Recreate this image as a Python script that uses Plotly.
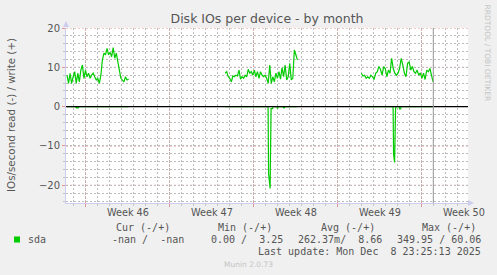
import plotly.graph_objects as go
import pandas as pd

# ---------------- data ----------------
chart_title = "Disk IOs per device - by month"
y_title = "IOs/second read (-) / write (+)"
watermark = "RRDTOOL / TOBI OETIKER"
footer = "Munin 2.0.73"

week_starts = ["2025-11-10", "2025-11-17", "2025-11-24", "2025-12-01", "2025-12-08"]
week_label_pos = ["2025-11-13 12:00", "2025-11-20 12:00", "2025-11-27 12:00",
                  "2025-12-04 12:00", "2025-12-11 12:00"]
week_labels = ["Week 46", "Week 47", "Week 48", "Week 49", "Week 50"]
y_ticks = [-20, -10, 0, 10, 20]

x_range = ["2025-11-08 08:50", "2025-12-11 20:50"]
y_range = [-24.5, 20]
last_update = "2025-12-08 23:25:13"

# write (+) series, three sampled stretches
write1_span = ("2025-11-08 10:50", "2025-11-13 14:00")
write1 = [8.0, 5.9, 8.5, 5.9, 7.6, 8.9, 5.9, 8.5, 6.3, 9.3, 10.6, 7.2, 9.3, 7.6,
          8.5, 7.2, 8.0, 8.5, 7.6, 6.8, 7.2, 5.9, 8.0, 11.9, 13.6, 13.2, 14.8,
          13.2, 13.8, 12.7, 15.0, 12.3, 13.6, 11.0, 9.3, 7.2, 6.8, 6.3, 7.6, 6.8, 7.0]

write2_span = ("2025-11-21 15:10", "2025-11-27 15:40")
write2 = [8.5, 8.9, 7.6, 7.2, 6.3, 7.8, 7.6, 8.0, 7.8, 9.3, 7.0, 7.6, 7.2, 8.0,
          7.6, 9.5, 8.5, 8.9, 8.0, 9.3, 7.6, 8.9, 7.2, 8.9, 8.0, 7.6, 8.0, 7.2,
          5.9, 10.6, 5.9, 7.6, 6.3, 8.5, 7.2, 8.9, 7.0, 9.9, 7.6, 10.6, 6.8, 7.6,
          11.0, 6.8, 7.2, 14.4, 13.2, 11.9]

write3_span = ("2025-12-02 23:30", "2025-12-08 23:00")
write3 = [8.5, 7.8, 8.0, 7.2, 7.6, 7.2, 8.0, 7.6, 6.9, 8.5, 8.9, 10.2, 9.5, 8.0,
          10.2, 9.7, 7.6, 9.3, 8.5, 12.3, 9.7, 8.5, 8.0, 8.5, 9.7, 12.3, 10.6, 8.5,
          7.6, 11.0, 11.4, 9.3, 10.2, 8.9, 8.5, 9.3, 8.0, 8.6, 7.2, 8.5, 6.9, 9.3,
          8.9, 9.7, 8.0, 6.3]

# read (-) series (None = gap)
read_times = ["2025-11-08 10:50", "2025-11-09 04:00", "2025-11-09 05:30", "2025-11-09 09:20",
              "2025-11-09 10:30", "2025-11-13 14:00", None,
              "2025-11-21 15:10", "2025-11-25 05:00", "2025-11-25 06:00", "2025-11-25 09:00",
              "2025-11-25 11:00", "2025-11-25 14:00", "2025-11-25 15:00", "2025-11-25 23:00",
              "2025-11-26 00:00", "2025-11-26 01:00", "2025-11-26 10:30", "2025-11-26 11:30",
              "2025-11-26 13:00", "2025-11-26 14:00", "2025-11-27 15:40", None,
              "2025-12-02 23:30", "2025-12-05 15:00", "2025-12-05 16:00", "2025-12-05 18:00",
              "2025-12-05 20:00", "2025-12-05 22:00", "2025-12-06 03:00", "2025-12-06 04:00",
              "2025-12-06 06:00", "2025-12-06 07:00", "2025-12-08 23:00"]
read_values = [0, 0, -0.3, -0.3, 0, 0, None,
               0, 0, -17, -20.8, -0.5, -0.5, 0, 0, -0.5, 0, 0, -0.4, -0.4, 0, 0, None,
               0, 0, -12, -14.2, -0.3, 0, 0, -0.6, -0.6, 0, 0]

legend_name = "sda"
col_headers = ["Cur (-/+)", "Min (-/+)", "Avg (-/+)", "Max (-/+)"]
col_values = ["-nan /  -nan", "0.00 /  3.25", "262.37m/  8.66", "349.95 / 60.06"]
last_update_text = "Last update: Mon Dec  8 23:25:13 2025"

# ---------------- layout helpers ----------------
W, H = 497, 275
L, R, T, B = 66, 468, 28, 203


def px(x):
    return (x - L) / (R - L)


def py(y):
    return (B - y) / (B - T)


GREEN = "#00cc00"
TXT = "#555555"
MAJOR = "#e59595"
MINOR = "#bcbcbc"
AXIS = "#ccccee"
DOTS = "2px,2px"
SANS = "DejaVu Sans, Verdana, sans-serif"
MONO = "DejaVu Sans Mono, monospace"

fig = go.Figure()

for span, vals in [(write1_span, write1), (write2_span, write2), (write3_span, write3)]:
    t = pd.date_range(span[0], span[1], periods=len(vals))
    fig.add_trace(go.Scatter(x=t, y=vals, mode="lines",
                             line=dict(color=GREEN, width=1.2),
                             showlegend=False, hoverinfo="skip"))

fig.add_trace(go.Scatter(x=read_times, y=read_values, mode="lines",
                         line=dict(color=GREEN, width=1.2), connectgaps=False,
                         showlegend=False, hoverinfo="skip"))

fig.update_layout(
    width=W, height=H,
    margin=dict(l=L, r=W - R, t=T, b=H - B),
    paper_bgcolor="#f0f0f0", plot_bgcolor="#ffffff",
    font=dict(family=SANS, size=10, color=TXT),
    title=dict(text=chart_title, x=0.5, xanchor="center", xref="paper",
               y=1 - 19 / H, yanchor="middle",
               font=dict(family=SANS, size=12.5, color=TXT)),
    xaxis=dict(type="date", range=x_range, tickmode="array", tickvals=week_starts,
               showticklabels=False, showgrid=False,
               ticks="outside", ticklen=3, tickcolor=MAJOR,
               showline=True, linecolor=AXIS, linewidth=1, zeroline=False,
               minor=dict(dtick=86400000, tick0="2025-11-10", showgrid=True,
                          gridcolor=MINOR, griddash=DOTS, gridwidth=1,
                          ticks="outside", ticklen=2, tickcolor="#c4c4c4")),
    yaxis=dict(range=y_range, tickmode="array", tickvals=y_ticks,
               showgrid=False,
               ticks="outside", ticklen=3, tickcolor=MAJOR,
               showline=True, linecolor=AXIS, linewidth=1, zeroline=False,
               tickfont=dict(family=SANS, size=10, color=TXT),
               minor=dict(dtick=2, showgrid=True, gridcolor=MINOR, griddash=DOTS,
                          gridwidth=1, ticks="outside", ticklen=2, tickcolor="#c4c4c4")),
)

shapes = []
# major grid (red dotted) at the week boundaries and y ticks
for ws in week_starts:
    shapes.append(dict(type="line", xref="x", yref="paper", x0=ws, x1=ws, y0=0, y1=1,
                       line=dict(color=MAJOR, width=1, dash=DOTS), layer="below"))
for yt in y_ticks:
    shapes.append(dict(type="line", xref="paper", yref="y", x0=0, x1=1, y0=yt, y1=yt,
                       line=dict(color=MAJOR, width=1, dash=DOTS), layer="below"))
shapes += [
    # zero rule drawn above data
    dict(type="line", xref="paper", yref="y", x0=0, x1=1, y0=0, y1=0,
         line=dict(color="#000000", width=1.4), layer="above"),
    # "now" marker
    dict(type="line", xref="x", yref="paper", x0=last_update, x1=last_update, y0=0, y1=1,
         line=dict(color="#999999", width=1), layer="above"),
    # axis arrows
    dict(type="path", xref="paper", yref="paper",
         path=f"M {px(63)} {py(27)} L {px(69)} {py(27)} L {px(66)} {py(21)} Z",
         fillcolor=AXIS, line=dict(width=0)),
    dict(type="path", xref="paper", yref="paper",
         path=f"M {px(468)} {py(200)} L {px(468)} {py(206)} L {px(474)} {py(203)} Z",
         fillcolor=AXIS, line=dict(width=0)),
    # legend swatch
    dict(type="rect", xref="paper", yref="paper",
         x0=px(14), x1=px(20), y0=py(242.5), y1=py(236.5),
         fillcolor=GREEN, line=dict(width=0)),
]
fig.update_layout(shapes=shapes)

ann = []
for pos, lab in zip(week_label_pos, week_labels):
    ann.append(dict(text=lab, xref="x", yref="paper", x=pos, y=py(212.3),
                    showarrow=False, xanchor="center", yanchor="middle",
                    font=dict(family=SANS, size=9.7, color=TXT)))
ann.append(dict(text=y_title, xref="paper", yref="paper", x=px(11), y=py(115),
                textangle=-90, showarrow=False, xanchor="center", yanchor="middle",
                font=dict(family=SANS, size=10.3, color=TXT)))
ann.append(dict(text=watermark, xref="paper", yref="paper", x=px(487.5), y=py(53),
                textangle=90, showarrow=False, xanchor="center", yanchor="middle",
                font=dict(family=SANS, size=7.5, color="#c4c4c4")))
ann.append(dict(text=footer, xref="paper", yref="paper", x=px(248), y=py(264),
                showarrow=False, xanchor="center", yanchor="middle",
                font=dict(family=SANS, size=7.5, color="#c4c4c4")))
ann.append(dict(text=legend_name, xref="paper", yref="paper", x=px(26), y=py(239.7),
                showarrow=False, xanchor="left", yanchor="middle",
                font=dict(family=MONO, size=10, color=TXT)))
header_centers = [142.5, 245, 347.5, 449]
for h, cx in zip(col_headers, header_centers):
    ann.append(dict(text=h, xref="paper", yref="paper", x=px(cx), y=py(227.7),
                    showarrow=False, xanchor="center", yanchor="middle",
                    font=dict(family=MONO, size=10, color=TXT)))
value_starts = [110, 208.5, 296, 395]
for v, sx in zip(col_values, value_starts):
    ann.append(dict(text=v.replace(" ", "&nbsp;"), xref="paper", yref="paper", x=px(sx),
                    y=py(239.7), showarrow=False, xanchor="left", yanchor="middle",
                    font=dict(family=MONO, size=10, color=TXT)))
ann.append(dict(text=last_update_text.replace(" ", "&nbsp;"), xref="paper", yref="paper",
                x=px(483), y=py(251.3), showarrow=False, xanchor="right", yanchor="middle",
                font=dict(family=MONO, size=10, color=TXT)))
fig.update_layout(annotations=ann)

fig.write_html("out.html")
